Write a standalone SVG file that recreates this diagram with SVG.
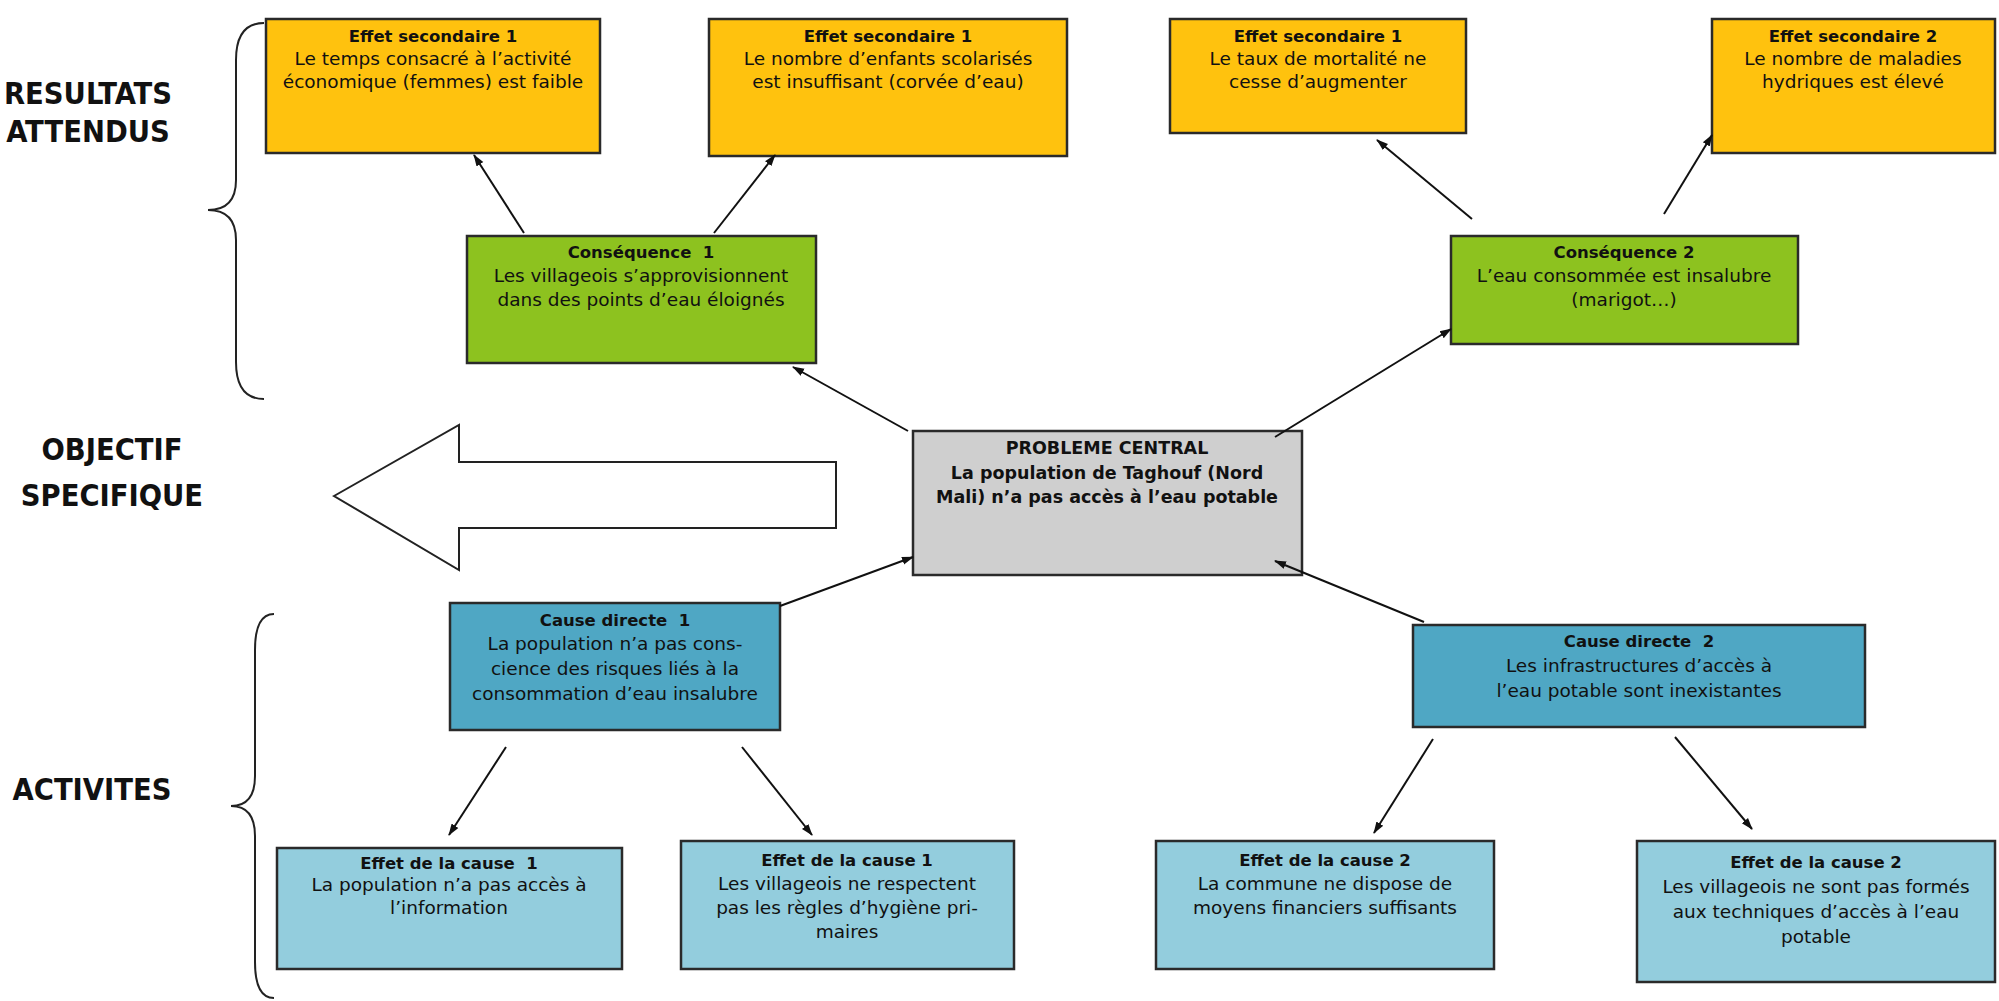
<svg xmlns="http://www.w3.org/2000/svg" width="1999" height="1001" viewBox="0 0 1999 1001">
<defs>
<marker id="ah" markerWidth="12" markerHeight="10" refX="11" refY="5" orient="auto" markerUnits="userSpaceOnUse">
<path d="M0,1 L12,5 L0,9 Z" fill="#111"/>
</marker>
<style>
.box{stroke:#2a2a2a;stroke-width:2.5}
.y{fill:#FFC20E}
.g{fill:#8DC21F}
.gr{fill:#CFCFCF}
.c{fill:#4FA7C4}
.e{fill:#93CDDD}
text{font-family:"DejaVu Sans","Liberation Sans",sans-serif;font-size:18.5px;fill:#111;text-anchor:middle;white-space:pre}
.b{font-weight:bold;font-size:16.5px}
.cb{font-weight:bold;font-size:17.5px}
.lab{font-size:30.5px;font-weight:bold;font-family:"DejaVu Sans Condensed","DejaVu Sans",sans-serif}
.conn line{stroke:#111;stroke-width:2;marker-end:url(#ah)}
.brace{fill:none;stroke:#222;stroke-width:2}
</style>
</defs>
<rect width="1999" height="1001" fill="#fff"/>

<g id="labels">
<text class="lab" x="88" y="104">RESULTATS</text>
<text class="lab" x="88" y="142">ATTENDUS</text>
<text class="lab" x="112" y="460">OBJECTIF</text>
<text class="lab" x="112" y="506">SPECIFIQUE</text>
<text class="lab" x="92" y="800">ACTIVITES</text>
</g>

<g id="braces">
<path class="brace" d="M264 23 Q236 23 236 60 L236 180 Q236 210 208 210 Q236 210 236 240 L236 362 Q236 399 264 399"/>
<path class="brace" d="M274 614 Q255 614 255 650 L255 776 Q255 806 231 806 Q255 806 255 836 L255 962 Q255 998 274 998"/>
</g>

<g id="objectif-arrow">
<polygon points="334,496 459,425 459,462 836,462 836,528 459,528 459,570" fill="#fff" stroke="#222" stroke-width="2"/>
</g>

<g id="y1">
<rect class="box y" x="266" y="19" width="334" height="134"/>
<text class="b" x="433" y="42">Effet secondaire 1</text>
<text x="433" y="65">Le temps consacré à l’activité</text>
<text x="433" y="88">économique (femmes) est faible</text>
</g>
<g id="y2">
<rect class="box y" x="709" y="19" width="358" height="137"/>
<text class="b" x="888" y="42">Effet secondaire 1</text>
<text x="888" y="65">Le nombre d’enfants scolarisés</text>
<text x="888" y="88">est insuffisant (corvée d’eau)</text>
</g>
<g id="y3">
<rect class="box y" x="1170" y="19" width="296" height="114"/>
<text class="b" x="1318" y="42">Effet secondaire 1</text>
<text x="1318" y="65">Le taux de mortalité ne</text>
<text x="1318" y="88">cesse d’augmenter</text>
</g>
<g id="y4">
<rect class="box y" x="1712" y="19" width="283" height="134"/>
<text class="b" x="1853" y="42">Effet secondaire 2</text>
<text x="1853" y="65">Le nombre de maladies</text>
<text x="1853" y="88">hydriques est élevé</text>
</g>

<g id="g1">
<rect class="box g" x="467" y="236" width="349" height="127"/>
<text class="b" x="641" y="258">Conséquence  1</text>
<text x="641" y="282">Les villageois s’approvisionnent</text>
<text x="641" y="306">dans des points d’eau éloignés</text>
</g>
<g id="g2">
<rect class="box g" x="1451" y="236" width="347" height="108"/>
<text class="b" x="1624" y="258">Conséquence 2</text>
<text x="1624" y="282">L’eau consommée est insalubre</text>
<text x="1624" y="306">(marigot…)</text>
</g>

<g id="central">
<rect class="box gr" x="913" y="431" width="389" height="144"/>
<text class="cb" x="1107" y="454">PROBLEME CENTRAL</text>
<text class="cb" x="1107" y="479">La population de Taghouf (Nord</text>
<text class="cb" x="1107" y="503">Mali) n’a pas accès à l’eau potable</text>
</g>

<g id="c1">
<rect class="box c" x="450" y="603" width="330" height="127"/>
<text class="b" x="615" y="626">Cause directe  1</text>
<text x="615" y="650">La population n’a pas cons-</text>
<text x="615" y="675">cience des risques liés à la</text>
<text x="615" y="700">consommation d’eau insalubre</text>
</g>
<g id="c2">
<rect class="box c" x="1413" y="625" width="452" height="102"/>
<text class="b" x="1639" y="647">Cause directe  2</text>
<text x="1639" y="672">Les infrastructures d’accès à</text>
<text x="1639" y="697">l’eau potable sont inexistantes</text>
</g>

<g id="e1a">
<rect class="box e" x="277" y="848" width="345" height="121"/>
<text class="b" x="449" y="869">Effet de la cause  1</text>
<text x="449" y="891">La population n’a pas accès à</text>
<text x="449" y="914">l’information</text>
</g>
<g id="e1b">
<rect class="box e" x="681" y="841" width="333" height="128"/>
<text class="b" x="847" y="866">Effet de la cause 1</text>
<text x="847" y="890">Les villageois ne respectent</text>
<text x="847" y="914">pas les règles d’hygiène pri-</text>
<text x="847" y="938">maires</text>
</g>
<g id="e2a">
<rect class="box e" x="1156" y="841" width="338" height="128"/>
<text class="b" x="1325" y="866">Effet de la cause 2</text>
<text x="1325" y="890">La commune ne dispose de</text>
<text x="1325" y="914">moyens financiers suffisants</text>
</g>
<g id="e2b">
<rect class="box e" x="1637" y="841" width="358" height="141"/>
<text class="b" x="1816" y="868">Effet de la cause 2</text>
<text x="1816" y="893">Les villageois ne sont pas formés</text>
<text x="1816" y="918">aux techniques d’accès à l’eau</text>
<text x="1816" y="943">potable</text>
</g>

<g id="connectors" class="conn">
<line x1="524" y1="233" x2="474" y2="155"/>
<line x1="714" y1="233" x2="775" y2="155"/>
<line x1="908" y1="431" x2="793" y2="367"/>
<line x1="1275" y1="437" x2="1451" y2="329"/>
<line x1="1472" y1="219" x2="1377" y2="140"/>
<line x1="1664" y1="214" x2="1712" y2="135"/>
<line x1="780" y1="606" x2="913" y2="557"/>
<line x1="1424" y1="622" x2="1275" y2="561"/>
<line x1="506" y1="747" x2="449" y2="835"/>
<line x1="742" y1="747" x2="812" y2="835"/>
<line x1="1433" y1="739" x2="1374" y2="833"/>
<line x1="1675" y1="737" x2="1752" y2="829"/>
</g>
</svg>
